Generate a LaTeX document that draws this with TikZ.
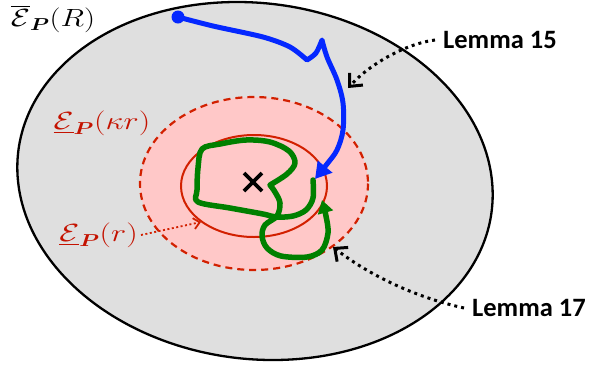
\documentclass[tikz,border=0pt]{standalone}
\usepackage{amsmath,amssymb}
\usepackage{fontspec}
\newfontfamily\lemfont{Carlito}
\usetikzlibrary{arrows.meta}
\definecolor{ringgray}{RGB}{223,223,223}
\definecolor{pinkfill}{RGB}{255,200,200}
\definecolor{dred}{RGB}{210,32,0}
\definecolor{lblred}{RGB}{196,18,0}
\definecolor{pathblue}{RGB}{5,40,255}
\definecolor{pathgreen}{RGB}{0,128,0}
\newcommand{\blackLbl}[1]{\scalebox{1.25}[1]{\fontsize{25}{30}\selectfont #1}}
\newcommand{\redLbl}[1]{\scalebox{1.3}[1]{\fontsize{23.5}{28}\selectfont #1}}
\begin{document}
\begin{tikzpicture}[x=1pt,y=-1pt,
  lemma/.style={font=\lemfont\bfseries\fontsize{26.5}{30}\selectfont, anchor=west, inner sep=0pt},
  mlabel/.style={inner sep=0pt},
  dotarrow/.style={line width=3pt, dash pattern=on 3pt off 4pt, -{Straight Barb[length=10pt,width=18pt,line width=3pt]}},
  reddot/.style={dred, line width=1.8pt, dash pattern=on 2pt off 2.5pt, -{Straight Barb[length=6pt,width=11pt,line width=1.8pt]}},
  bluepath/.style={pathblue, line width=5pt, line join=round, line cap=round},
  greenpath/.style={pathgreen, line width=5.5pt, line join=round, line cap=round}]
\useasboundingbox (0,0) rectangle (589,368);
% outer region
\draw[fill=ringgray, line width=2.3pt, shift={(255,181)}, xslant=-0.1] (0,0) ellipse [x radius=237, y radius=179];
% kappa r region
\draw[fill=pinkfill, draw=dred, line width=2.2pt, dash pattern=on 7pt off 5pt] (254,183.5) ellipse [x radius=114, y radius=86.5];
% r region
\draw[dred, line width=2pt] (254,186) ellipse [x radius=73, y radius=51];
% center mark
\draw[line width=3.8pt] (244,173) -- (262,191) (244,191) -- (262,173);
% green trajectory
\draw[greenpath, -{Triangle[length=13pt,width=15pt]}]
  plot[smooth, tension=0.55] coordinates {(313,180) (313,198) (306,210) (293,216) (276,217) (263,214) (230,208) (198,202) (197,190) (198,168) (202,149) (220,144) (246,140) (270,142) (289,151) (295,163) (287,174) (270,185)}
  -- plot[smooth, tension=0.55] coordinates {(270,185) (275,192) (280,203) (277,216) (265,225) (262,236) (267,248) (281,256) (307,257) (322,250) (328,233) (326,216) (322,200)};
% blue trajectory
\fill[pathblue] (178,17) circle (6.5);
\draw[bluepath, -{Triangle[length=16pt,width=18pt]}]
  plot[smooth, tension=0.5] coordinates {(178,17) (213,26) (263,37) (290,47) (307,60)}
  -- plot[smooth, tension=0.5] coordinates {(307,60) (316,53) (322,40)}
  -- plot[smooth, tension=0.55] coordinates {(322,40) (327,57) (337,80) (343,103) (343,130) (337,150) (327,164) (315,179)};
% labels
\node[mlabel] (lR) at (53,19) {\blackLbl{$\overline{\mathcal{E}}_{\boldsymbol{P}}(R)$}};
\node[mlabel, text=lblred] (lkr) at (102,123) {\redLbl{$\underline{\mathcal{E}}_{\boldsymbol{P}}(\kappa r)$}};
\node[mlabel, text=lblred, anchor=east] (lr) at (138,235) {\redLbl{$\underline{\mathcal{E}}_{\boldsymbol{P}}(r)$}};
\node[lemma] (l15) at (443,40) {Lemma 15};
\node[lemma] (l17) at (472,308) {Lemma 17};
% connectors
\coordinate (t15) at (348,88);
\coordinate (t17) at (333,247);
\coordinate (tr) at (201,222);
\draw[dotarrow] ([xshift=-8pt]l15.west) .. controls (405,44) and (370,64) .. (t15);
\draw[dotarrow] ([xshift=-8pt]l17.west) .. controls (410,296) and (365,272) .. (t17);
\draw[reddot] ([xshift=3pt]lr.east) -- (tr);
\end{tikzpicture}
\end{document}
